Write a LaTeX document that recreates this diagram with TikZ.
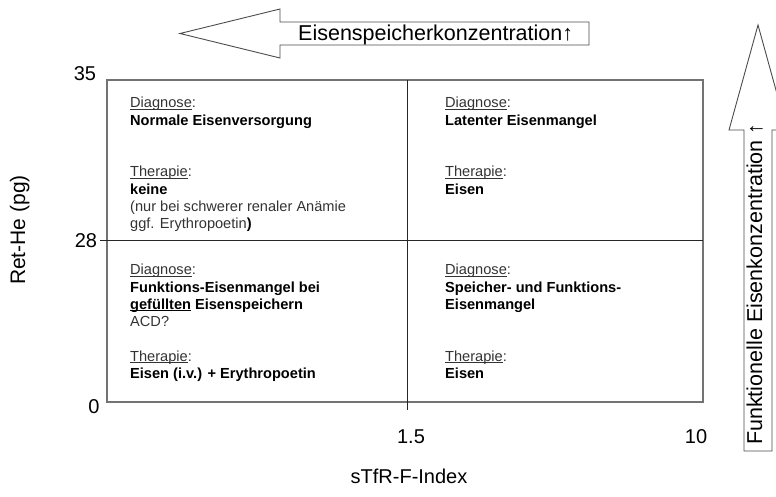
\documentclass[tikz,border=0pt]{standalone}
\usepackage{fontspec}
\setmainfont{Liberation Sans}
\newcommand{\unterstr}[1]{\setbox0\hbox{#1}\rlap{\rule[-1.6pt]{\wd0}{0.7pt}}#1}
\newcommand{\fett}[1]{\textbf{\color{black}#1}}

\begin{document}
\begin{tikzpicture}[
  x=1pt, y=-1pt,
  frame/.style={line width=1.3pt, black!55},
  divider/.style={line width=1pt, black!85},
  bigarrow/.style={draw=black!70, fill=white, line width=0.9pt, line join=miter},
  axislabel/.style={font=\fontsize{20}{24}\selectfont, inner sep=0pt},
  arrowlabel/.style={font=\fontsize{21.5}{26}\selectfont, inner sep=0pt},
  cell/.style={font=\fontsize{14.6}{17.3}\selectfont, align=left, anchor=north west, inner sep=0pt, text=black!80}
]
  % pixel grid of the original, y pointing down
  \useasboundingbox (0,0) rectangle (776,496);
  \clip (0,0) rectangle (776,496);

  \draw[bigarrow] (180,33.5) -- (280,9) -- (280,22) -- (589,22) -- (589,45)
    -- (280,45) -- (280,58) -- cycle;
  \draw[bigarrow] (758,25) -- (787,130) -- (772,130) -- (772,451) -- (744,451)
    -- (744,130) -- (729,130) -- cycle;
  \node[arrowlabel, anchor=base west] (speicher) at (298,40) {Eisenspeicherkonzentration↑};
  \node[arrowlabel, rotate=90, anchor=base west] (funktion) at (762,445) {Funktionelle Eisenkonzentration ↑};

  \draw[frame] (107,80) rectangle (703,402);
  \draw[divider] (100,240) -- (703,240);
  \draw[divider] (407,80) -- (407,410);

  \node[axislabel, anchor=base] (y35) at (85,80) {35};
  \node[axislabel, anchor=base] (y28) at (86,247) {28};
  \node[axislabel, anchor=base] (y0) at (94,413) {0};
  \node[axislabel, anchor=base] (x15) at (411,443) {1.5};
  \node[axislabel, anchor=base] (x10) at (696,443) {10};
  \node[axislabel, anchor=base] (xlabel) at (409,483) {sTfR-F-Index};
  \node[axislabel, font=\fontsize{21}{24}\selectfont, rotate=90, anchor=base] (ylabel) at (25,230) {Ret-He (pg)};

  \node[cell] (normal) at (130,97) {\unterstr{Diagnose}:\\ \fett{Normale Eisenversorgung}\\[2\baselineskip]
    \unterstr{Therapie}:\\ \fett{keine}\\ (nur bei schwerer renaler Anämie\\ ggf. Erythropoetin\fett{)}};
  \node[cell] (latent) at (445,97) {\unterstr{Diagnose}:\\ \fett{Latenter Eisenmangel}\\[2\baselineskip]
    \unterstr{Therapie}:\\ \fett{Eisen}};
  \node[cell] (acd) at (130,264) {\unterstr{Diagnose}:\\ \fett{Funktions-Eisenmangel bei}\\
    \fett{\unterstr{gefüllten} Eisenspeichern}\\ ACD?\\[\baselineskip]
    \unterstr{Therapie}:\\ \fett{Eisen (i.v.) + Erythropoetin}};
  \node[cell] (beide) at (445,264) {\unterstr{Diagnose}:\\ \fett{Speicher- und Funktions-}\\
    \fett{Eisenmangel}\\[2\baselineskip]
    \unterstr{Therapie}:\\ \fett{Eisen}};
\end{tikzpicture}
\end{document}
